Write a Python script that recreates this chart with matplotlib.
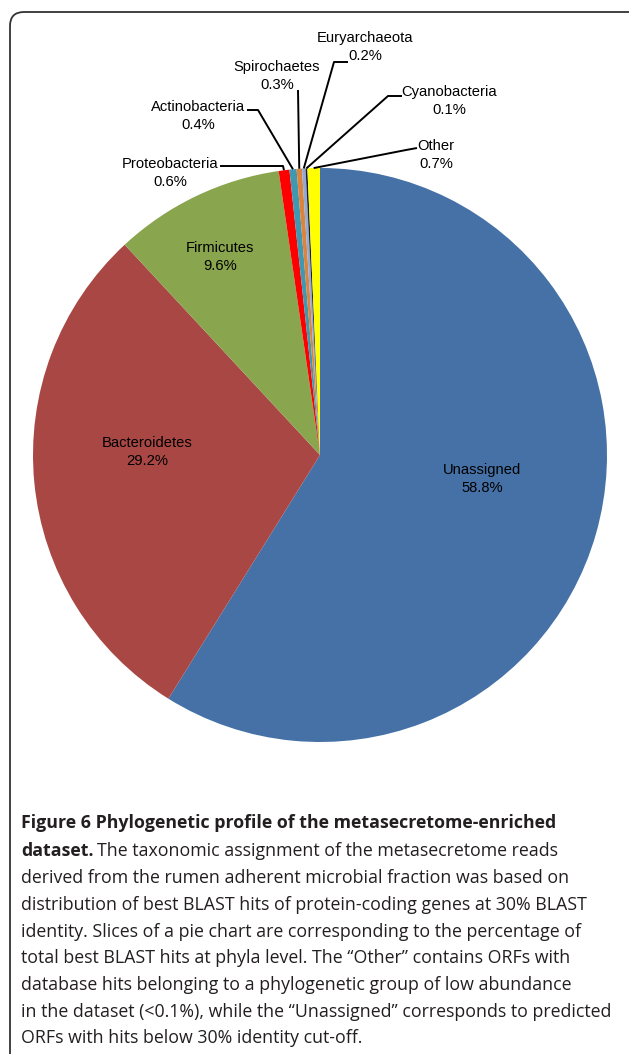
import numpy as np
import matplotlib
matplotlib.use("Agg")
import matplotlib.pyplot as plt
from matplotlib.patches import FancyBboxPatch

W, H = 629, 1054

phyla = ["Unassigned", "Bacteroidetes", "Firmicutes", "Proteobacteria", "Actinobacteria",
         "Spirochaetes", "Euryarchaeota", "Cyanobacteria", "Other"]
percent = [58.8, 29.2, 9.6, 0.6, 0.4, 0.3, 0.2, 0.1, 0.7]
colors = ["#4571A6", "#A94744", "#89A54E", "#FF0000", "#3F97B0",
          "#DB843D", "#95AAD0", "#1A1A3A", "#FFFF00"]

caption_title = "Figure 6 Phylogenetic profile of the metasecretome-enriched"
caption_bold2 = "dataset."
caption_rest2 = "The taxonomic assignment of the metasecretome reads"
caption_lines = [
    "derived from the rumen adherent microbial fraction was based on",
    "distribution of best BLAST hits of protein-coding genes at 30% BLAST",
    "identity. Slices of a pie chart are corresponding to the percentage of",
    "total best BLAST hits at phyla level. The \u201cOther\u201d contains ORFs with",
    "database hits belonging to a phylogenetic group of low abundance",
    "in the dataset (<0.1%), while the \u201cUnassigned\u201d corresponds to predicted",
    "ORFs with hits below 30% identity cut-off.",
]

def P(x, y):
    # pixel coords (top-down) -> data coords
    return x, H - y

label_font = ["Liberation Sans", "DejaVu Sans"]

fig = plt.figure(figsize=(6.29, 10.54), dpi=100)
ax = fig.add_axes([0, 0, 1, 1])

cx, cy = P(320, 455)
R = 287
wedges, _ = ax.pie(percent, colors=colors, startangle=90, counterclock=False,
                   center=(cx, cy), radius=R, wedgeprops=dict(linewidth=0))
ax.set_xlim(0, W)
ax.set_ylim(0, H)
ax.axis("off")

# frame around the chart
ax.add_patch(FancyBboxPatch(P(10, 1080), 640, 1068, boxstyle="round,pad=0,rounding_size=14",
                            fill=False, edgecolor="#333333", linewidth=1.3, clip_on=True))

def lab(i, x, y):
    ax.text(*P(x, y), f"{phyla[i]}\n{percent[i]}%", ha="center", va="center",
            fontsize=10.6, family=label_font, linespacing=1.4, color="black")

# inside labels
lab(0, 482, 479)
lab(1, 147, 452)
lab(2, 220, 257)

# outside labels with leader lines
outside = {
    3: ((170, 173), [(220, 166), (283, 166)]),
    4: ((198, 116), [(247, 110), (258, 110)]),
    5: ((277, 76), [(298, 90)]),
    6: ((365, 47), [(348, 62), (334, 62)]),
    7: ((449, 101), [(402, 96), (388, 96)]),
    8: ((436, 155), [(417, 148), (406, 150)]),
}
for i, (pos, elbow) in outside.items():
    lab(i, *pos)
    w = wedges[i]
    mid = np.deg2rad((w.theta1 + w.theta2) / 2)
    ax_, ay_ = cx + R * np.cos(mid), cy + R * np.sin(mid)
    pts = [P(*p) for p in elbow] + [(ax_, ay_)]
    xs, ys = zip(*pts)
    ax.plot(xs, ys, color="black", linewidth=1.4, solid_capstyle="butt")

# caption, sized so the widest line fits
renderer = fig.canvas.get_renderer()
cap_font = "Open Sans"
widest = 0
for line in caption_lines:
    probe = fig.text(0, 0, line, fontsize=10, family=cap_font)
    widest = max(widest, probe.get_window_extent(renderer).width)
    probe.remove()
size = 10 * 592 / widest

x0 = 21 / W
line_y = [823, 851, 878, 905, 932, 958, 985, 1012, 1038]
fig.text(x0, 1 - line_y[0] / H, caption_title, fontsize=size, family=cap_font,
         weight="bold", va="center", color="#231F20")
tb = fig.text(x0, 1 - line_y[1] / H, caption_bold2, fontsize=size, family=cap_font,
              weight="bold", va="center", color="#231F20")
bw = tb.get_window_extent(renderer).width
fig.text(x0 + (bw + size * 0.3) / W, 1 - line_y[1] / H, caption_rest2, fontsize=size,
         family=cap_font, va="center", color="#231F20")
for k, line in enumerate(caption_lines):
    fig.text(x0, 1 - line_y[k + 2] / H, line, fontsize=size, family=cap_font,
             va="center", color="#231F20")

fig.savefig("out.png", dpi=100)
